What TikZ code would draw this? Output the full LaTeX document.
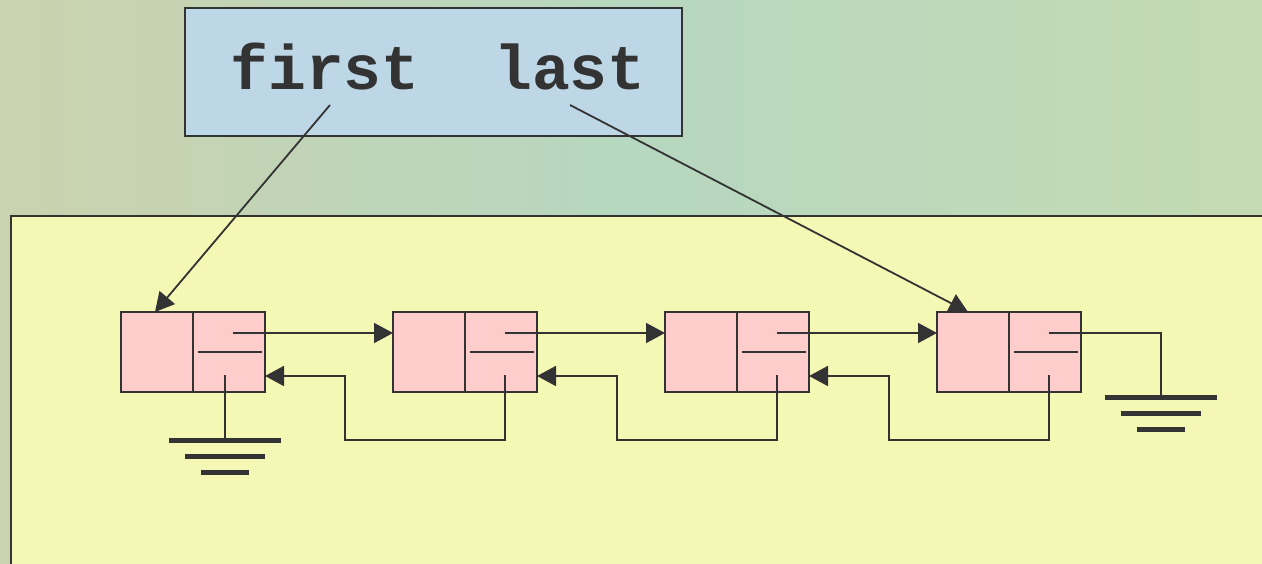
\documentclass[tikz,border=0pt]{standalone}
\usepackage{fontspec}
\newfontfamily\monob{Liberation Mono}[BoldFont={Liberation Mono Bold}]
\usetikzlibrary{arrows.meta,calc}
\definecolor{ink}{HTML}{333333}
\definecolor{bgA}{HTML}{CBD2AE}
\definecolor{bgB}{HTML}{B6D7C0}
\definecolor{bgC}{HTML}{C4DAB2}
\definecolor{boxblue}{HTML}{BED7E6}
\definecolor{boxyellow}{HTML}{F5F8B5}
\definecolor{cellpink}{HTML}{FFCCCC}
\tikzset{
  cell/.style={draw=ink, fill=cellpink, line width=2pt, minimum width=72pt, minimum height=80pt, inner sep=0pt, outer sep=0pt},
  wire/.style={draw=ink, line width=1.8pt},
  arr/.style={wire, -{Triangle[length=19pt,width=20pt]}},
  bar/.style={draw=ink, line width=5pt},
  label/.style={font=\monob\bfseries\fontsize{63}{63}\selectfont, text=ink, inner sep=0pt, anchor=base},
}
\begin{document}
\begin{tikzpicture}[x=1pt,y=-1pt]
\useasboundingbox (0,0) rectangle (1262,563);
\clip (0,0) rectangle (1262,563);
\shade[left color=bgA, right color=bgC, middle color=bgB] (0,0) rectangle (1262,563);
% top box
\node[draw=ink, fill=boxblue, line width=2pt, minimum width=497pt, minimum height=128pt, inner sep=0pt] (head) at (433.5,72) {};
\node[label] (first) at (325,89) {first};
\node[label] (last) at (570,89) {last};
% yellow panel
\node[draw=ink, fill=boxyellow, line width=2pt, minimum width=1280pt, minimum height=380pt, inner sep=0pt, anchor=north west] (panel) at (10,215) {};
% list cells
\foreach \k in {1,...,4}{
  \pgfmathsetmacro{\L}{121+272*(\k-1)}
  \node[cell] (d\k) at (\L+36,352) {};
  \node[cell] (p\k) at (\L+108,352) {};
  \draw[wire] ($(p\k.west)+(5,0)$) -- ($(p\k.east)+(-3,0)$);
  \coordinate (nx\k) at ($(p\k.center)+(4,-19)$);
  \coordinate (pv\k) at ($(p\k.center)+(4,23)$);
}
\coordinate (pv1) at ($(p1.center)+(-4,23)$);
% forward links
\draw[arr] (nx1) -- (nx1 -| d2.west);
\draw[arr] (nx2) -- (nx2 -| d3.west);
\draw[arr] (nx3) -- (nx3 -| d4.west);
% backward links
\coordinate (c1) at ($(p1.east)+(80,24)$);
\coordinate (c2) at ($(p2.east)+(80,24)$);
\coordinate (c3) at ($(p3.east)+(80,24)$);
\draw[arr] (pv2) -- ++(0,65) -| (c1) -- ($(p1.east)+(0,24)$);
\draw[arr] (pv3) -- ++(0,65) -| (c2) -- ($(p2.east)+(0,24)$);
\draw[arr] (pv4) -- ++(0,65) -| (c3) -- ($(p3.east)+(0,24)$);
% grounds
\coordinate (g1) at (225,440);
\coordinate (g2) at (1161,397);
\draw[wire] (pv1) -- (g1);
\draw[wire] (nx4) -| (g2);
\foreach \g in {g1,g2}{
  \draw[bar] ($(\g)+(-56,0)$) -- ($(\g)+(56,0)$);
  \draw[bar] ($(\g)+(-40,16)$) -- ($(\g)+(40,16)$);
  \draw[bar] ($(\g)+(-24,32)$) -- ($(\g)+(24,32)$);
}
% head pointers
\coordinate (fs) at (330,105);
\coordinate (ls) at (570,105);
\draw[arr] (fs) -- ($(d1.north west)+(34,0)$);
\draw[arr] (ls) -- ($(d4.north west)+(31,0)$);
\end{tikzpicture}
\end{document}
